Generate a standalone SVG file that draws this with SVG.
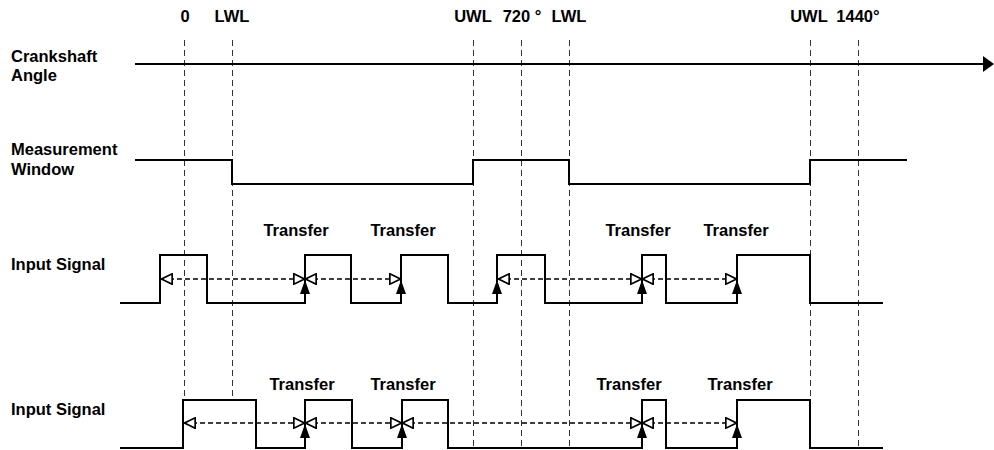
<svg xmlns="http://www.w3.org/2000/svg" width="994" height="450" viewBox="0 0 994 450">
<style>
text{font-family:"Liberation Sans",Arial,sans-serif;font-weight:bold;font-size:16.5px;fill:#000}
.lbl{text-anchor:middle}
.grid{stroke:#333;stroke-width:1;stroke-dasharray:6,4;fill:none}
.sig{stroke:#000;stroke-width:2;fill:none}
.dash{stroke:#000;stroke-width:1.5;stroke-dasharray:5,3;fill:none;marker-start:url(#open);marker-end:url(#open)}
.up{stroke:#000;stroke-width:1.5;fill:none;marker-end:url(#fill)}
</style>
<defs>
<marker id="open" viewBox="0 0 10 10" refX="10" refY="5" markerWidth="12" markerHeight="12" markerUnits="userSpaceOnUse" orient="auto-start-reverse">
<path d="M0.7,0.7 L9.5,5 L0.7,9.3 Z" fill="#fff" stroke="#000" stroke-width="1.4"/>
</marker>
<marker id="fill" viewBox="0 0 10 14" refX="5" refY="0" markerWidth="10" markerHeight="14" markerUnits="userSpaceOnUse" orient="0">
<path d="M5,0 L10,14 L0,14 Z" fill="#000"/>
</marker>
</defs>
<g id="gridlines">
<line class="grid" x1="184.5" y1="40" x2="184.5" y2="400"/>
<line class="grid" x1="232.5" y1="40" x2="232.5" y2="397"/>
<line class="grid" x1="473.5" y1="40" x2="473.5" y2="446"/>
<line class="grid" x1="521.5" y1="40" x2="521.5" y2="446"/>
<line class="grid" x1="569.5" y1="40" x2="569.5" y2="446"/>
<line class="grid" x1="810.5" y1="40" x2="810.5" y2="446"/>
<line class="grid" x1="858.5" y1="40" x2="858.5" y2="446"/>
</g>
<g id="top-labels">
<text class="lbl" x="185" y="22">0</text>
<text class="lbl" x="232" y="22">LWL</text>
<text class="lbl" x="473" y="22">UWL</text>
<text class="lbl" x="522" y="22">720 °</text>
<text class="lbl" x="569" y="22">LWL</text>
<text class="lbl" x="809" y="22">UWL</text>
<text class="lbl" x="858" y="22">1440°</text>
</g>
<g id="crankshaft">
<text x="11" y="62">Crankshaft</text>
<text x="11" y="81">Angle</text>
<line class="sig" x1="135" y1="64" x2="985" y2="64"/>
<path d="M983,56 L994,64 L983,72 Z" fill="#000"/>
</g>
<g id="window">
<text x="11" y="155">Measurement</text>
<text x="11" y="175">Window</text>
<polyline class="sig" points="135,160 232,160 232,184 473,184 473,160 569,160 569,184 810,184 810,160 907,160"/>
</g>
<g id="signal1">
<text x="11" y="270">Input Signal</text>
<polyline class="sig" points="120,303 160,303 160,255 207,255 207,303 305,303 305,255 351,255 351,303 401,303 401,255 448,255 448,303 497,303 497,255 545,255 545,303 642,303 642,255 666,255 666,303 737,303 737,255 810,255 810,303 883,303"/>
<text class="lbl" x="296" y="236">Transfer</text>
<text class="lbl" x="403" y="236">Transfer</text>
<text class="lbl" x="638" y="236">Transfer</text>
<text class="lbl" x="736" y="236">Transfer</text>
</g>
<g id="signal2">
<text x="11" y="415">Input Signal</text>
<polyline class="sig" points="120,448 183,448 183,400 256,400 256,448 305,448 305,400 352,400 352,448 402,448 402,400 448,400 448,448 642,448 642,400 666,400 666,448 737,448 737,400 810,400 810,448 883,448"/>
<text class="lbl" x="302" y="390">Transfer</text>
<text class="lbl" x="403" y="390">Transfer</text>
<text class="lbl" x="629" y="390">Transfer</text>
<text class="lbl" x="740" y="390">Transfer</text>
</g>
<g id="connectors">
<line class="dash" x1="161" y1="279" x2="305" y2="279"/>
<line class="dash" x1="305" y1="279" x2="401" y2="279"/>
<line class="dash" x1="498" y1="279" x2="642" y2="279"/>
<line class="dash" x1="642" y1="279" x2="737" y2="279"/>
<line class="up" x1="305" y1="303" x2="305" y2="280"/>
<line class="up" x1="401" y1="303" x2="401" y2="280"/>
<line class="up" x1="497" y1="303" x2="497" y2="280"/>
<line class="up" x1="642" y1="303" x2="642" y2="280"/>
<line class="up" x1="737" y1="303" x2="737" y2="280"/>
<line class="dash" x1="184" y1="423" x2="305" y2="423"/>
<line class="dash" x1="305" y1="423" x2="402" y2="423"/>
<line class="dash" x1="402" y1="423" x2="642" y2="423"/>
<line class="dash" x1="642" y1="423" x2="737" y2="423"/>
<line class="up" x1="305" y1="448" x2="305" y2="424"/>
<line class="up" x1="402" y1="448" x2="402" y2="424"/>
<line class="up" x1="642" y1="448" x2="642" y2="424"/>
<line class="up" x1="737" y1="448" x2="737" y2="424"/>
</g>
</svg>
